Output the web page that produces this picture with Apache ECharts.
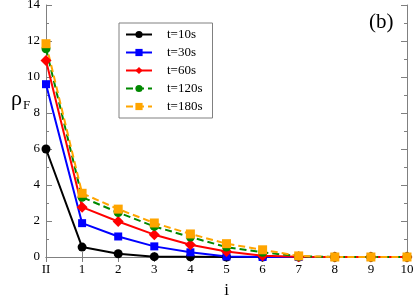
<!DOCTYPE html>
<html><head><meta charset="utf-8">
<script src="https://cdn.jsdelivr.net/npm/echarts@6/dist/echarts.min.js"></script>
<style>html,body{margin:0;padding:0;background:#fff}#c{width:415px;height:296px}</style>
</head><body><div id="c"></div>
<script>
var categories = ['II','1','2','3','4','5','6','7','8','9','10'];
var t10  = [6.0, 0.55, 0.18, 0.02, 0.01, 0, 0, 0, 0, 0, 0];
var t30  = [9.6, 1.88, 1.14, 0.59, 0.26, 0.03, 0, 0, 0, 0, 0];
var t60  = [10.92, 2.77, 1.97, 1.24, 0.68, 0.31, 0.07, 0.01, 0, 0, 0];
var t120 = [11.57, 3.32, 2.47, 1.7, 1.11, 0.55, 0.26, 0.04, 0, 0, 0];
var t180 = [11.85, 3.54, 2.66, 1.89, 1.28, 0.74, 0.4, 0.06, 0, 0, 0];
var seriesNames = ['t=10s','t=30s','t=60s','t=120s','t=180s'];
var yTicks = {min: 0, max: 14, interval: 2};

var font = 'Liberation Serif';
var axisColor = '#808080';
function mk(name, data, color, symbol, dashed, size) {
  return {
    name: name, type: 'line', data: data, symbol: symbol, symbolSize: size,
    itemStyle: {color: color},
    lineStyle: {color: color, width: 2, type: dashed ? [7, 4] : 'solid'},
    animation: false
  };
}
var chart = echarts.init(document.getElementById('c'), null, {renderer: 'canvas'});
chart.setOption({
  backgroundColor: '#fff',
  animation: false,
  grid: {left: 46, right: 8, top: 5, bottom: 39, outerBoundsMode: 'none', containLabel: false},
  legend: {
    data: seriesNames, orient: 'vertical', left: 119, top: 23,
    itemWidth: 26, itemHeight: 9, itemGap: 5,
    padding: [5, 10, 5, 6],
    borderColor: axisColor, borderWidth: 1, borderRadius: 0,
    textStyle: {fontFamily: font, fontSize: 13, color: '#000', padding: [0, 0, 0, 10]}
  },
  xAxis: [{
    type: 'category', data: categories, boundaryGap: false,
    axisLine: {lineStyle: {color: axisColor}},
    axisTick: {inside: true, length: 5, lineStyle: {color: axisColor}},
    axisLabel: {fontFamily: font, fontSize: 13, color: '#000', margin: 6},
    name: 'i', nameLocation: 'middle', nameGap: 25,
    nameTextStyle: {fontFamily: font, fontSize: 17, color: '#000'}
  }, {
    type: 'category', data: categories, boundaryGap: false, position: 'top',
    axisLine: {lineStyle: {color: axisColor}},
    axisTick: {inside: true, length: 5, lineStyle: {color: axisColor}},
    axisLabel: {show: false}
  }],
  yAxis: [{
    type: 'value', min: yTicks.min, max: yTicks.max, interval: yTicks.interval,
    axisLine: {show: true, lineStyle: {color: axisColor}},
    axisTick: {show: true, inside: true, length: 6, lineStyle: {color: axisColor}},
    minorTick: {show: true, splitNumber: 2, length: 3, lineStyle: {color: axisColor}},
    splitLine: {show: false},
    axisLabel: {fontFamily: font, fontSize: 13, color: '#000', margin: 6}
  }, {
    type: 'value', min: yTicks.min, max: yTicks.max, interval: yTicks.interval, position: 'right',
    axisLine: {show: true, lineStyle: {color: axisColor}},
    axisTick: {show: true, inside: true, length: 6, lineStyle: {color: axisColor}},
    minorTick: {show: true, splitNumber: 2, length: 3, lineStyle: {color: axisColor}},
    splitLine: {show: false},
    axisLabel: {show: false}
  }],
  graphic: [{
    type: 'text', left: 369, top: 12,
    style: {text: '(b)', font: '21px "Liberation Serif"', fill: '#000'}
  }, {
    type: 'text', left: 11, top: 88,
    style: {
      text: '{a|ρ}{b|F}',
      rich: {
        a: {font: '22px "Liberation Serif"', fill: '#000'},
        b: {font: '13px "Liberation Serif"', fill: '#000', padding: [14, 0, 0, 1]}
      }
    }
  }],
  series: [
    mk(seriesNames[0], t10, '#000000', 'circle', false, 9),
    mk(seriesNames[1], t30, '#0000ff', 'rect', false, 8),
    mk(seriesNames[2], t60, '#ff0000', 'diamond', false, 11),
    mk(seriesNames[3], t120, '#008800', 'circle', true, 9),
    mk(seriesNames[4], t180, '#ffa500', 'rect', true, 9)
  ]
});
</script></body></html>
